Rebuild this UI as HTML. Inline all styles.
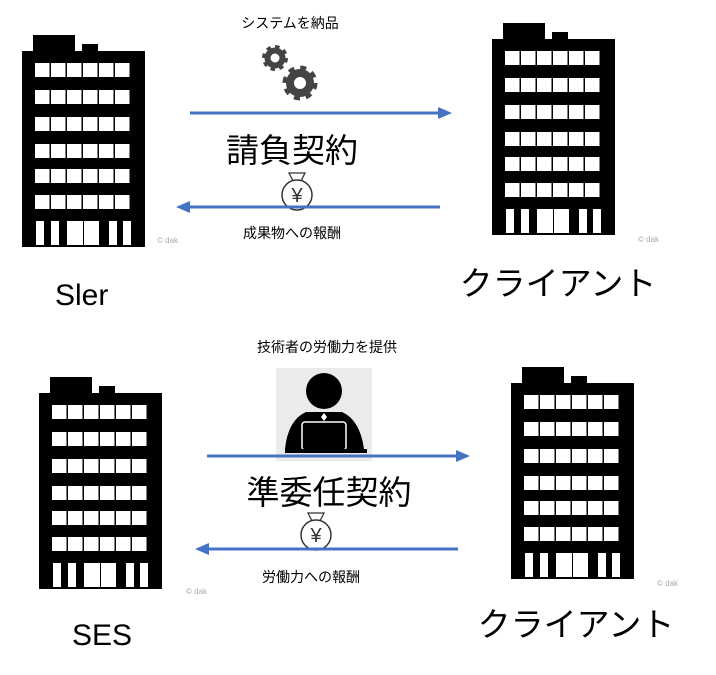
<!DOCTYPE html>
<html><head><meta charset="utf-8"><style>
body{margin:0;background:#fff}
svg text{font-family:"Liberation Sans","Noto Sans CJK JP",sans-serif;fill:#000}
</style></head><body>
<svg width="716" height="670" viewBox="0 0 716 670" xmlns="http://www.w3.org/2000/svg">
<defs>
<g id="row" fill="#fff"><rect x="13" y="0" width="14.5" height="14"/><rect x="29" y="0" width="14.5" height="14"/><rect x="45" y="0" width="14.5" height="14"/><rect x="61" y="0" width="14.5" height="14"/><rect x="77" y="0" width="14.5" height="14"/><rect x="93" y="0" width="14.5" height="14"/></g>
<g id="b">
<rect x="11" y="0" width="42" height="17" fill="#000"/>
<rect x="60" y="9" width="16" height="8" fill="#000"/>
<rect x="0" y="16" width="123" height="196" fill="#000"/>
<use href="#row" y="28"/><use href="#row" y="55"/><use href="#row" y="82"/><use href="#row" y="109"/><use href="#row" y="134"/><use href="#row" y="160"/>
<g fill="#fff">
<rect x="14" y="186" width="8" height="24"/><rect x="29" y="186" width="8" height="24"/><rect x="45" y="186" width="16" height="24"/><rect x="62" y="186" width="15" height="24"/><rect x="87" y="186" width="8" height="24"/><rect x="101" y="186" width="8" height="24"/>
</g>
</g>
<g id="bag">
<path d="M-8,-22 L8,-22 L4,-14 L-4,-14 Z" fill="#fff" stroke="#333" stroke-width="1.3"/>
<circle cx="0" cy="0" r="15" fill="#fff" stroke="#333" stroke-width="1.5"/>
<text x="0" y="7" font-size="20" text-anchor="middle" style="fill:#333">¥</text>
</g>
</defs>
<use href="#b" x="22" y="35"/>
<use href="#b" x="492" y="23"/>
<use href="#b" x="39" y="377"/>
<use href="#b" x="511" y="367"/>

<circle cx="275" cy="58" r="7.5" fill="none" stroke="#444" stroke-width="6"/>
<circle cx="275" cy="58" r="11" fill="none" stroke="#444" stroke-width="4" stroke-dasharray="4.3 4.3"/>
<circle cx="300" cy="83" r="10" fill="none" stroke="#444" stroke-width="8"/>
<circle cx="300" cy="83" r="15" fill="none" stroke="#444" stroke-width="5" stroke-dasharray="5.9 5.9"/>

<text x="290" y="28" font-size="14" text-anchor="middle">システムを納品</text>
<line x1="190" y1="113" x2="440" y2="113" stroke="#4472C4" stroke-width="3"/>
<path d="M452,113 L438,107 L438,119 Z" fill="#4472C4"/>
<text x="292" y="162" font-size="33" text-anchor="middle">請負契約</text>
<use href="#bag" x="297" y="195"/>
<line x1="190" y1="207" x2="440" y2="207" stroke="#4472C4" stroke-width="3"/>
<path d="M176,207 L190,201 L190,213 Z" fill="#4472C4"/>
<text x="292" y="238" font-size="14" text-anchor="middle">成果物への報酬</text>
<text x="55" y="305" font-size="30">Sler</text>
<text x="558" y="295" font-size="33" text-anchor="middle">クライアント</text>

<text x="327" y="352" font-size="14" text-anchor="middle">技術者の労働力を提供</text>
<rect x="276" y="368" width="96" height="93" fill="#ebebeb"/>
<circle cx="324" cy="391" r="18" fill="#000"/>
<path d="M285,449 Q288,420 306,412 L342,412 Q360,420 364,449 Z" fill="#000"/>
<path d="M324,413 l3,4 -3,4 -3,-4z" fill="#fff"/>
<rect x="302" y="422" width="44" height="28" rx="3" fill="#000" stroke="#fff" stroke-width="1.5"/>
<rect x="285" y="449" width="82" height="4" fill="#000"/>
<line x1="207" y1="456" x2="458" y2="456" stroke="#4472C4" stroke-width="3"/>
<path d="M470,456 L456,450 L456,462 Z" fill="#4472C4"/>
<text x="329" y="504" font-size="33" text-anchor="middle">準委任契約</text>
<use href="#bag" x="316" y="535"/>
<line x1="208" y1="549" x2="458" y2="549" stroke="#4472C4" stroke-width="3"/>
<path d="M195,549 L209,543 L209,555 Z" fill="#4472C4"/>
<text x="311" y="582" font-size="14" text-anchor="middle">労働力への報酬</text>
<text x="72" y="645" font-size="30">SES</text>
<text x="576" y="636" font-size="33" text-anchor="middle">クライアント</text>

<text x="157" y="243" font-size="8" style="fill:#aaa">© dak</text>
<text x="638" y="242" font-size="8" style="fill:#aaa">© dak</text>
<text x="186" y="594" font-size="8" style="fill:#aaa">© dak</text>
<text x="657" y="586" font-size="8" style="fill:#aaa">© dak</text>
</svg>
</body></html>
